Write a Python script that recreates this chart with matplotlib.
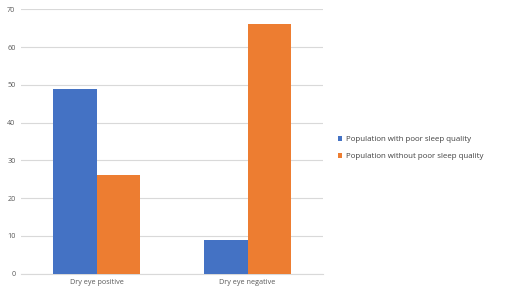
import numpy as np
import matplotlib
matplotlib.use("Agg")
import matplotlib.pyplot as plt

categories = ["Dry eye positive", "Dry eye negative"]
poor_sleep = [49, 9]
no_poor_sleep = [26, 66]
series_names = ["Population with poor sleep quality",
                "Population without poor sleep quality"]
yticks = [0, 10, 20, 30, 40, 50, 60, 70]

plt.rcParams['font.family'] = ['Open Sans', 'DejaVu Sans']

fig = plt.figure(figsize=(5.07, 2.95), dpi=100)
ax = fig.add_axes([21 / 507, 1 - 273.7 / 295, 302 / 507, (273.7 - 9.3) / 295])

x = np.arange(len(categories))
w = 0.285
ax.bar(x - w / 2, poor_sleep, w, color='#4472c4', label=series_names[0], zorder=3)
ax.bar(x + w / 2, no_poor_sleep, w, color='#ed7d31', label=series_names[1], zorder=3)

ax.set_xlim(-0.5, 1.5)
ax.set_ylim(0, 70)
ax.set_yticks(yticks)
ax.set_xticks(x)
ax.set_xticklabels(categories)
ax.grid(axis='y', color='#d9d9d9', linewidth=0.8, zorder=0)
for s in ['left', 'right', 'top']:
    ax.spines[s].set_visible(False)
ax.spines['bottom'].set_color('#d9d9d9')
ax.spines['bottom'].set_linewidth(0.8)
ax.tick_params(length=0, labelsize=5.2, colors='#595959', pad=4)

ax.legend(loc='center left', bbox_to_anchor=(331 / 507, 147 / 295),
          bbox_transform=fig.transFigure, frameon=False, fontsize=5.7,
          handlelength=0.55, handleheight=0.55, handletextpad=0.4,
          labelspacing=1.2, labelcolor='#404040')

fig.savefig("out.png", dpi=100)
